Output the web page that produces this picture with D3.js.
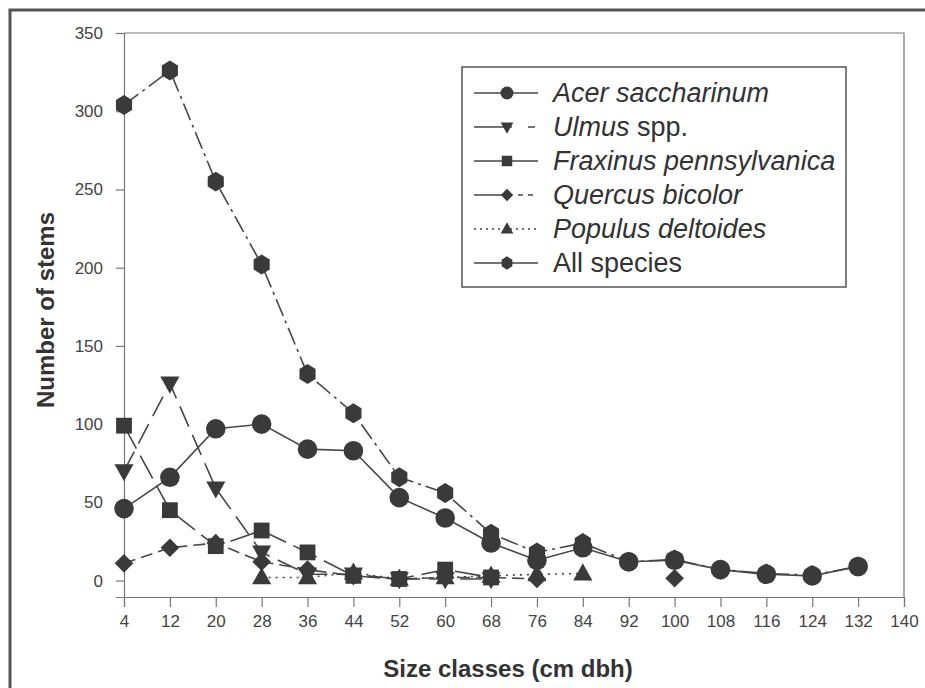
<!DOCTYPE html>
<html>
<head>
<meta charset="utf-8">
<script src="https://cdn.jsdelivr.net/npm/d3@7"></script>
<style>
  body { margin: 0; background: #fff; }
  text { font-family: "Liberation Sans", Arial, sans-serif; }
</style>
</head>
<body>
<div id="chart"></div>
<script>
// size classes (cm dbh)
var sizeClasses = [4, 12, 20, 28, 36, 44, 52, 60, 68, 76, 84, 92, 100, 108, 116, 124, 132];
var xTicks = [4, 12, 20, 28, 36, 44, 52, 60, 68, 76, 84, 92, 100, 108, 116, 124, 132, 140];
var yTicks = [0, 50, 100, 150, 200, 250, 300, 350];

// number of stems per series (null = no point)
var acerValues     = [46, 66, 97, 100, 84, 83, 53, 40, 24, 13, 21, 12, 13, 7, 4, 3, 9];
var ulmusValues    = [70, 126, 59, 18, 4, 4, 1, 1, 1, null, null, null, null, null, null, null, null];
var fraxinusValues = [99, 45, 22, 32, 18, 3, 1, 7, 2, null, null, null, null, null, null, null, null];
var quercusValues  = [11, 21, 24, 12, 7, 3, 1, 2, 2, 1, null, null, 1.5, null, null, null, null];
var populusValues  = [null, null, null, 2, 2, 5, 1, 2, 3, 4, 4.5, null, null, null, null, null, null];
var allValues      = [304, 326, 255, 202, 132, 107, 66, 56, 30, 18, 24, 12, 13.5, 7, 4.5, 3.5, 9];

var seriesNames = ["Acer saccharinum", "Ulmus spp.", "Fraxinus pennsylvanica", "Quercus bicolor", "Populus deltoides", "All species"];

var series = [
  {name: seriesNames[4], values: populusValues,  marker: "triangleUp",   dash: "2,5",      legendDash: "2,4"},
  {name: seriesNames[3], values: quercusValues,  marker: "diamond",      dash: "12,6",     legendDash: "38,6,5,5,5,30"},
  {name: seriesNames[2], values: fraxinusValues, marker: "square",       dash: "26,8",     legendDash: null},
  {name: seriesNames[1], values: ulmusValues,    marker: "triangleDown", dash: "22,9",     legendDash: "38,16,7,30"},
  {name: seriesNames[5], values: allValues,      marker: "hexagon",      dash: "18,5,3,5", legendDash: null},
  {name: seriesNames[0], values: acerValues,     marker: "circle",       dash: null,       legendDash: null}
];

var W = 925, H = 688;
var margin = {top: 33, right: 21, bottom: 91, left: 124};
var width = W - margin.left - margin.right,
    height = H - margin.top - margin.bottom;

var svg = d3.select("#chart").append("svg")
    .attr("width", W)
    .attr("height", H);

// outer frame (left + top)
svg.append("path")
    .attr("d", "M10," + H + "V10H" + W)
    .attr("fill", "none")
    .attr("stroke", "#555")
    .attr("stroke-width", 3);

var g = svg.append("g")
    .attr("transform", "translate(" + margin.left + "," + margin.top + ")");

var x = d3.scaleLinear().domain([4, 140]).range([0, width]);
var y = d3.scaleLinear().domain([-10.5, 350]).range([height, 0]);

// plot border (top + right)
g.append("path")
    .attr("d", "M0,0H" + width + "V" + height)
    .attr("fill", "none")
    .attr("stroke", "#777")
    .attr("stroke-width", 1.2);

// X axis
var xAxis = g.append("g")
    .attr("transform", "translate(0," + height + ")")
    .call(d3.axisBottom(x).tickValues(xTicks).tickSize(10).tickPadding(8).tickFormat(d3.format("d")));

// Y axis
var yAxis = g.append("g")
    .call(d3.axisLeft(y).tickValues(yTicks).tickSize(8).tickPadding(13).tickFormat(d3.format("d")));

[xAxis, yAxis].forEach(function(a) {
  a.select(".domain").attr("stroke", "#777").attr("stroke-width", 1.2);
  a.selectAll(".tick line").attr("stroke", "#777").attr("stroke-width", 1.2);
  a.selectAll(".tick text").attr("fill", "#444").style("font-size", "17px");
});

g.append("text")
    .attr("x", width / 2 - 6)
    .attr("y", height + 80)
    .attr("text-anchor", "middle")
    .attr("fill", "#333")
    .style("font-size", "24px")
    .style("font-weight", "bold")
    .text("Size classes (cm dbh)");

g.append("text")
    .attr("transform", "rotate(-90)")
    .attr("x", -height / 2 + 5)
    .attr("y", -70)
    .attr("text-anchor", "middle")
    .attr("fill", "#333")
    .style("font-size", "24px")
    .style("font-weight", "bold")
    .text("Number of stems");

// marker shapes
function markerPath(type, s) {
  if (type === "circle") return d3.symbol().type(d3.symbolCircle).size(Math.PI * s * s)();
  if (type === "square") return d3.symbol().type(d3.symbolSquare).size(s * s * 2.6)();
  if (type === "diamond") return d3.symbol().type(d3.symbolDiamond2).size(s * s * 2.3)();
  if (type === "triangleUp" || type === "triangleDown") {
    var h = s * 1.75, w = s * 1.95, sign = type === "triangleUp" ? 1 : -1;
    return "M0," + (-sign * h * 0.6) + "L" + (w / 2) + "," + (sign * h * 0.4) + "L" + (-w / 2) + "," + (sign * h * 0.4) + "Z";
  }
  if (type === "hexagon") {
    var pts = d3.range(6).map(function(i) {
      var a = Math.PI / 3 * i - Math.PI / 2;
      return [Math.cos(a) * s * 0.95, Math.sin(a) * s * 1.02];
    });
    return "M" + pts.join("L") + "Z";
  }
}

var line = d3.line()
    .defined(function(d) { return d.v != null; })
    .x(function(d) { return x(d.x); })
    .y(function(d) { return y(d.v); });

var lineColor = "#474747", markColor = "#3a3a3a";

series.forEach(function(s) {
  var pts = sizeClasses.map(function(c, i) { return {x: c, v: s.values[i]}; });
  g.append("path")
      .datum(pts)
      .attr("fill", "none")
      .attr("stroke", lineColor)
      .attr("stroke-width", 1.6)
      .attr("stroke-dasharray", s.dash)
      .attr("d", line);
});

series.forEach(function(s) {
  var pts = sizeClasses.map(function(c, i) { return {x: c, v: s.values[i]}; })
      .filter(function(d) { return d.v != null; });
  g.selectAll(null)
      .data(pts)
      .enter()
      .append("path")
      .attr("transform", function(d) { return "translate(" + x(d.x) + "," + y(d.v) + ")"; })
      .attr("d", markerPath(s.marker, 9.8))
      .attr("fill", markColor);
});

// legend
var legendOrder = [5, 3, 2, 1, 0, 4];
var legend = svg.append("g").attr("transform", "translate(462,67)");
legend.append("rect")
    .attr("width", 384)
    .attr("height", 220)
    .attr("fill", "#fff")
    .attr("stroke", "#555")
    .attr("stroke-width", 1.5);

legendOrder.forEach(function(idx, row) {
  var s = series[idx];
  var ly = 26 + row * 34;
  legend.append("line")
      .attr("x1", 12).attr("x2", 76)
      .attr("y1", ly).attr("y2", ly)
      .attr("stroke", lineColor)
      .attr("stroke-width", 1.6)
      .attr("stroke-dasharray", s.legendDash);
  legend.append("path")
      .attr("transform", "translate(45," + ly + ")")
      .attr("d", markerPath(s.marker, 6.5))
      .attr("fill", markColor);
  var t = legend.append("text")
      .attr("x", 91)
      .attr("y", ly + 9)
      .attr("fill", "#333")
      .style("font-size", "27px");
  if (s.name === "Ulmus spp.") {
    t.append("tspan").style("font-style", "italic").text("Ulmus");
    t.append("tspan").text(" spp.");
  } else if (s.name === "All species") {
    t.text(s.name);
  } else {
    t.style("font-style", "italic").text(s.name);
  }
});
</script>
</body>
</html>
